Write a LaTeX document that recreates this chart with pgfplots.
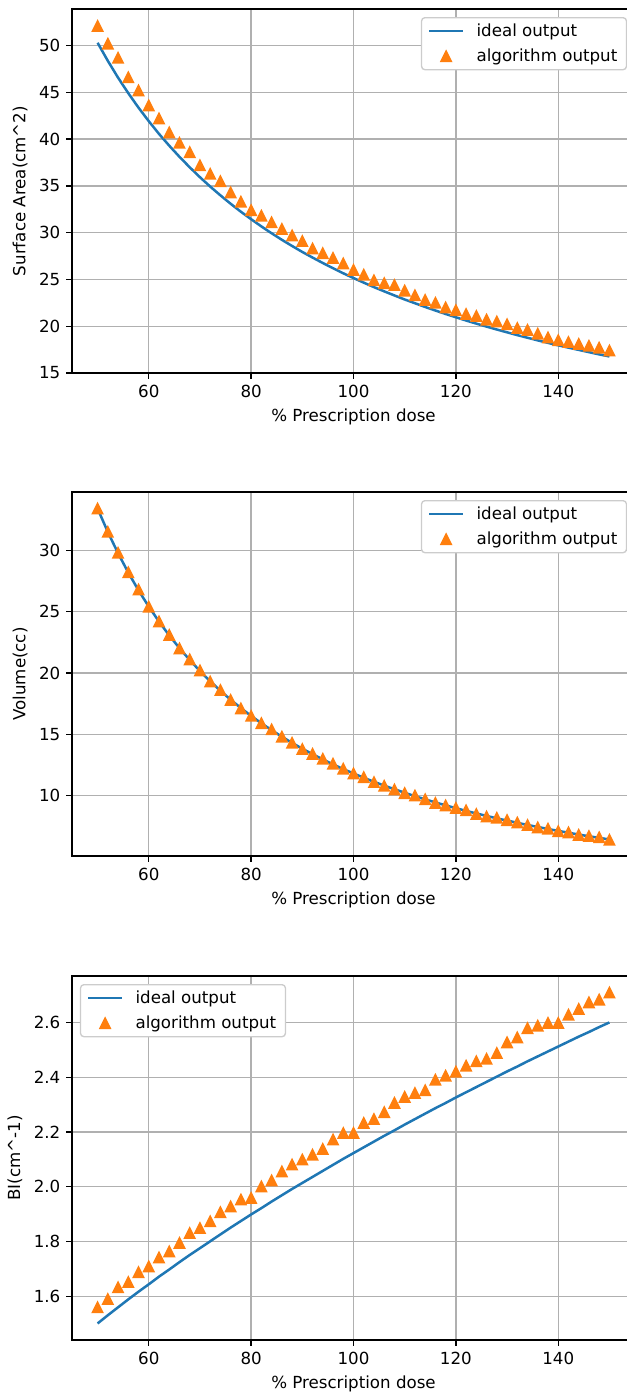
\documentclass[border=0pt]{standalone}
\usepackage{fontspec}
\setmainfont{DejaVu Sans}
\usepackage{pgfplots}
\usepackage{pgfplotstable}
\pgfplotsset{compat=1.18}

\definecolor{mplblue}{HTML}{1F77B4}
\definecolor{mplorange}{HTML}{FF7F0E}
\definecolor{mplgrid}{HTML}{B0B0B0}

% upward triangle spanning a square of side 2r, centred on the point
\pgfdeclareplotmark{mpltri}{%
  \pgfpathmoveto{\pgfqpoint{0pt}{\pgfplotmarksize}}%
  \pgfpathlineto{\pgfqpoint{-\pgfplotmarksize}{-\pgfplotmarksize}}%
  \pgfpathlineto{\pgfqpoint{\pgfplotmarksize}{-\pgfplotmarksize}}%
  \pgfpathclose
  \pgfusepathqfillstroke
}

% surface area (cm^2)
\pgfplotstableread{
x   ideal  algo
50  50.30  52.1
52  48.37  50.2
54  46.57  48.7
56  44.91  46.6
58  43.36  45.2
60  41.92  43.6
62  40.56  42.2
64  39.30  40.7
66  38.11  39.6
68  36.99  38.6
70  35.93  37.2
72  34.93  36.3
74  33.99  35.5
76  33.09  34.3
78  32.24  33.3
80  31.44  32.4
82  30.67  31.8
84  29.94  31.1
86  29.24  30.4
88  28.58  29.7
90  27.94  29.1
92  27.34  28.3
94  26.76  27.8
96  26.20  27.3
98  25.66  26.7
100 25.15  26.0
102 24.66  25.5
104 24.18  24.9
106 23.73  24.6
108 23.29  24.4
110 22.86  23.8
112 22.46  23.3
114 22.06  22.8
116 21.68  22.5
118 21.31  22.0
120 20.96  21.7
122 20.61  21.3
124 20.28  21.1
126 19.96  20.7
128 19.65  20.5
130 19.35  20.2
132 19.05  19.8
134 18.77  19.6
136 18.49  19.2
138 18.22  18.8
140 17.96  18.5
142 17.71  18.3
144 17.47  18.1
146 17.23  17.9
148 16.99  17.7
150 16.77  17.4
}\areatable

% volume (cc)
\pgfplotstableread{
x   ideal  algo
50  33.40  33.4
52  31.49  31.5
54  29.76  29.8
56  28.18  28.2
58  26.73  26.8
60  25.41  25.4
62  24.19  24.2
64  23.06  23.1
66  22.02  22.0
68  21.06  21.1
70  20.16  20.2
72  19.33  19.3
74  18.55  18.6
76  17.82  17.8
78  17.14  17.1
80  16.50  16.5
82  15.90  15.9
84  15.34  15.4
86  14.81  14.8
88  14.30  14.3
90  13.83  13.8
92  13.38  13.4
94  12.96  13.0
96  12.55  12.6
98  12.17  12.2
100 11.81  11.8
102 11.46  11.5
104 11.13  11.1
106 10.82  10.8
108 10.52  10.5
110 10.24  10.2
112 9.96   10.0
114 9.70   9.7
116 9.45   9.4
118 9.21   9.2
120 8.98   9.0
122 8.76   8.8
124 8.55   8.5
126 8.35   8.3
128 8.15   8.2
130 7.97   8.0
132 7.79   7.8
134 7.61   7.6
136 7.45   7.4
138 7.28   7.3
140 7.13   7.1
142 6.98   7.0
144 6.83   6.8
146 6.69   6.7
148 6.56   6.6
150 6.43   6.4
}\volumetable

% BI (cm^-1)
\pgfplotstableread{
x   ideal  algo
50  1.501  1.560
52  1.531  1.590
54  1.560  1.633
56  1.589  1.652
58  1.617  1.688
60  1.644  1.709
62  1.672  1.742
64  1.698  1.764
66  1.725  1.795
68  1.751  1.831
70  1.776  1.849
72  1.801  1.874
74  1.826  1.907
76  1.851  1.928
78  1.875  1.953
80  1.899  1.959
82  1.922  2.001
84  1.946  2.023
86  1.969  2.056
88  1.992  2.081
90  2.014  2.099
92  2.036  2.117
94  2.058  2.138
96  2.080  2.172
98  2.102  2.196
100 2.123  2.196
102 2.144  2.233
104 2.165  2.247
106 2.186  2.272
108 2.206  2.306
110 2.227  2.328
112 2.247  2.342
114 2.267  2.352
116 2.287  2.391
118 2.306  2.405
120 2.326  2.420
122 2.345  2.442
124 2.364  2.458
126 2.383  2.467
128 2.402  2.488
130 2.421  2.527
132 2.439  2.545
134 2.458  2.579
136 2.476  2.588
138 2.494  2.598
140 2.512  2.598
142 2.530  2.628
144 2.548  2.649
146 2.565  2.673
148 2.583  2.683
150 2.600  2.709
}\bitable

\pgfplotsset{
  dosepanel/.style={
    scale only axis,
    width=337.8pt, height=218.4pt,
    xmin=45, xmax=155,
    xtick={60,80,...,140},
    xtick pos=left, ytick pos=left,
    tick align=outside,
    major tick length=3.5pt,
    every tick/.style={black, line width=0.8pt},
    axis line style={black, line width=0.8pt},
    grid=major,
    major grid style={mplgrid, line width=0.8pt},
    /pgf/number format/assume math mode=true,
    tick label style={font=\fontsize{10}{12}\selectfont},
    label style={font=\fontsize{10}{12}\selectfont},
    xlabel={\% Prescription dose},
    legend cell align=left,
    legend style={
      draw=black!20, line width=0.8pt, rounded corners=2pt, fill=white,
      font=\fontsize{10}{12}\selectfont,
      inner xsep=4pt, inner ysep=2pt, row sep=3pt,
      nodes={inner sep=1.5pt},
      /tikz/column 1/.style={column sep=6pt},
    },
  },
  idealline/.style={
    mplblue, line width=1.5pt, no marks,
    legend image code/.code={\draw[##1] (0pt,0pt) -- (20pt,0pt);},
  },
  algomarks/.style={
    only marks, mark=mpltri, mark size=3pt,
    mark options={draw=mplorange, fill=mplorange, line width=1pt},
    legend image code/.code={\draw[##1] plot coordinates {(10pt,0pt)};},
  },
}

\begin{document}
\begin{tikzpicture}

\begin{axis}[dosepanel,
  at={(0pt,0pt)}, anchor=north west,
  ymin=15.0, ymax=53.91,
  ytick={15,20,...,50},
  ylabel={Surface Area(cm\textasciicircum 2)},
  legend style={at={(0.986,0.978)}, anchor=north east},
]
\addplot[idealline] table[x=x, y=ideal] {\areatable};
\addlegendentry{ideal output}
\addplot[algomarks] table[x=x, y=algo] {\areatable};
\addlegendentry{algorithm output}
\end{axis}

\begin{axis}[dosepanel,
  at={(0pt,-289.8pt)}, anchor=north west,
  ymin=5.08, ymax=34.75,
  ytick={10,15,...,30},
  ylabel={Volume(cc)},
  legend style={at={(0.986,0.978)}, anchor=north east},
]
\addplot[idealline] table[x=x, y=ideal] {\volumetable};
\addlegendentry{ideal output}
\addplot[algomarks] table[x=x, y=algo] {\volumetable};
\addlegendentry{algorithm output}
\end{axis}

\begin{axis}[dosepanel,
  at={(0pt,-580.2pt)}, anchor=north west,
  ymin=1.4406, ymax=2.7694,
  ytick={1.6,1.8,...,2.61},
  yticklabel style={/pgf/number format/.cd, fixed, fixed zerofill, precision=1},
  ylabel={BI(cm\textasciicircum -1)},
  legend style={at={(0.014,0.978)}, anchor=north west},
]
\addplot[idealline] table[x=x, y=ideal] {\bitable};
\addlegendentry{ideal output}
\addplot[algomarks] table[x=x, y=algo] {\bitable};
\addlegendentry{algorithm output}
\end{axis}

\pgfresetboundingbox
\useasboundingbox (-43.2pt,5.4pt) rectangle (332.4pt,-830.4pt);
\end{tikzpicture}
\end{document}
